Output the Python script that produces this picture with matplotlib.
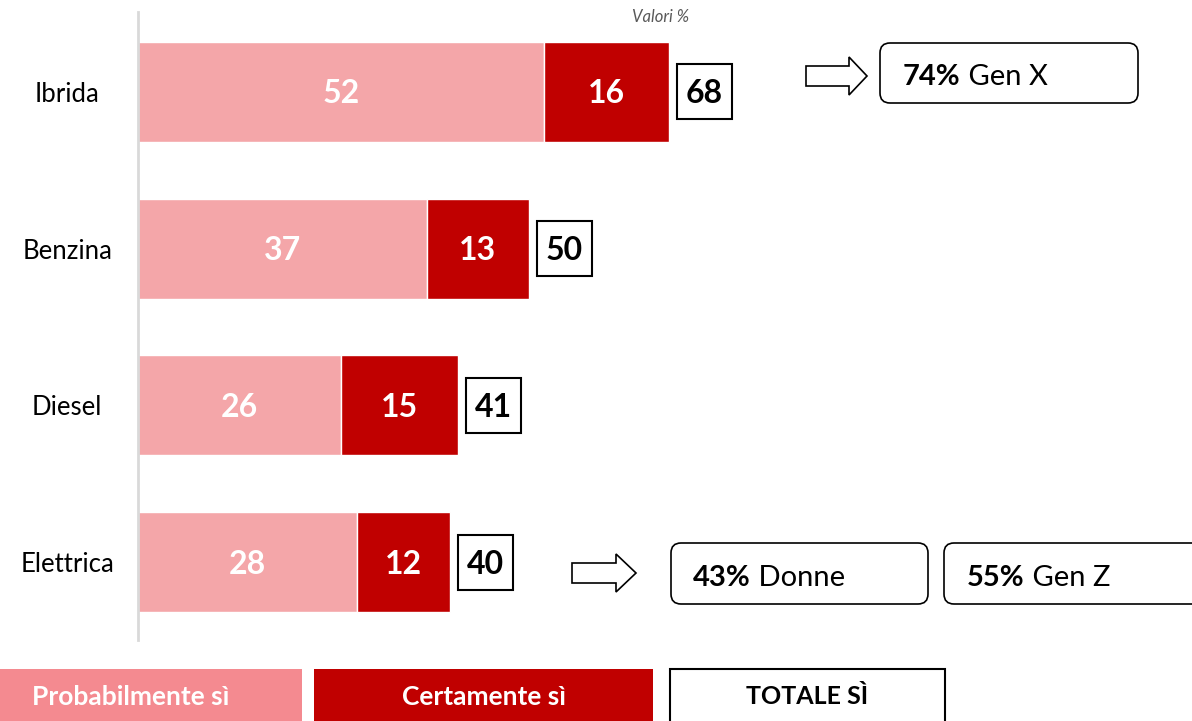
import matplotlib.pyplot as plt
import matplotlib.patches as mpatches

plt.rcParams['font.family'] = ['Lato', 'DejaVu Sans']

categories = ['Ibrida', 'Benzina', 'Diesel', 'Elettrica']
probabilmente = [52, 37, 26, 28]
certamente = [16, 13, 15, 12]
totale = [68, 50, 41, 40]
legend_labels = ['Probabilmente sì', 'Certamente sì', 'TOTALE SÌ']
callouts = [('74%', ' Gen X'), ('43%', ' Donne'), ('55%', ' Gen Z')]

light = '#F4A6A9'
dark = '#C00000'
legend_light = '#F48A90'

W, H = 1192, 721
fig = plt.figure(figsize=(W / 100, H / 100), dpi=100)

# main bar axes (pixel layout of the reference)
px_unit = 7.81      # pixels per percentage point
row_px = 156.7      # pixels between rows
x0, ytop, ybot = 138, 12, 640
ax = fig.add_axes([x0 / W, (H - ybot) / H, (W - x0) / W, (ybot - ytop) / H])
ax.set_xlim(0, (W - x0) / px_unit)
ax.set_ylim(3 + (ybot - 562) / row_px, -(92 - ytop) / row_px)

ys = range(len(categories))
bh = 100 / row_px
ax.barh(ys, probabilmente, height=bh, color=light, edgecolor='white', linewidth=1)
ax.barh(ys, certamente, left=probabilmente, height=bh, color=dark, edgecolor='white', linewidth=1)

for i in ys:
    yt = i + 2 / row_px
    ax.text(probabilmente[i] / 2, yt, str(probabilmente[i]), ha='center', va='center',
            color='white', fontsize=23, fontweight='bold')
    ax.text(probabilmente[i] + certamente[i] / 2, yt, str(certamente[i]), ha='center', va='center',
            color='white', fontsize=23, fontweight='bold')
    # total box
    bw = 55 / px_unit
    bhh = 55 / row_px
    bx = totale[i] + 8 / px_unit
    ax.add_patch(mpatches.Rectangle((bx, i - bhh / 2), bw, bhh, facecolor='white',
                                    edgecolor='black', linewidth=1.5, clip_on=False))
    ax.text(bx + bw / 2, yt, str(totale[i]), ha='center', va='center',
            color='black', fontsize=23, fontweight='bold')

ax.set_yticks(list(ys))
ax.set_yticklabels(categories, fontsize=18.5, ha='center')
ax.tick_params(axis='y', length=0, pad=51)
ax.set_xticks([])
for s in ['top', 'right', 'bottom']:
    ax.spines[s].set_visible(False)
ax.spines['left'].set_color('#D9D9D9')
ax.spines['left'].set_linewidth(2)

# overlay in pixel coordinates for annotations
ov = fig.add_axes([0, 0, 1, 1])
ov.set_xlim(0, W)
ov.set_ylim(H, 0)
ov.axis('off')

ov.text(661, 17, 'Valori %', ha='center', va='center', fontsize=12,
        style='italic', color='#595959')


def arrow(xl, xr, xh, yc, body, head):
    pts = [(xl, yc - body / 2), (xh, yc - body / 2), (xh, yc - head / 2), (xr, yc),
           (xh, yc + head / 2), (xh, yc + body / 2), (xl, yc + body / 2)]
    ov.add_patch(mpatches.Polygon(pts, closed=True, facecolor='white',
                                  edgecolor='black', linewidth=1.2))


def callout(x, y, w, h, tx, bold, rest):
    ov.add_patch(mpatches.FancyBboxPatch((x, y), w, h, boxstyle='round,pad=0,rounding_size=10',
                                         facecolor='white', edgecolor='black', linewidth=1.2,
                                         clip_on=False))
    t1 = ov.text(tx, y + h / 2 + 4, bold, ha='left', va='center', fontsize=21, fontweight='bold')
    ov.annotate(rest, xy=(1, 0), xycoords=t1, ha='left', va='bottom', fontsize=21)


arrow(806, 867, 849, 76, 20, 38)
callout(880, 43, 258, 60, 903, callouts[0][0], callouts[0][1])

arrow(572, 636, 616, 573, 20, 38)
callout(671, 543, 257, 61, 693, callouts[1][0], callouts[1][1])
callout(944, 543, 270, 61, 967, callouts[2][0], callouts[2][1])

# legend boxes
leg = [(0, 302, legend_light, 'none', 'white', 19),
       (314, 339, dark, 'none', 'white', 19),
       (670, 275, 'white', 'black', 'black', 18)]
for (lx, lw, fc, ec, tc, fs), lab in zip(leg, legend_labels):
    ov.add_patch(mpatches.Rectangle((lx, 669), lw, 60, facecolor=fc, edgecolor=ec,
                                    linewidth=1.5, clip_on=False))
    ov.text(lx + lw / 2 - (20 if lx == 0 else 0), 697, lab, ha='center', va='center',
            fontsize=fs, fontweight='bold', color=tc)

fig.savefig('out.png', dpi=100)
